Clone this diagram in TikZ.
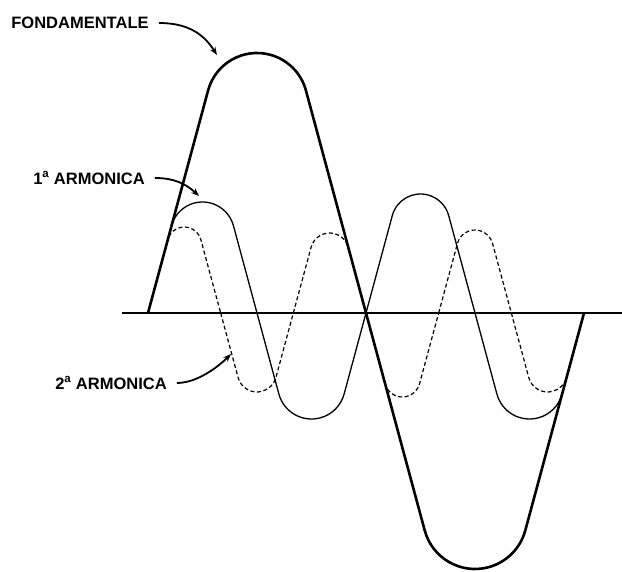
\documentclass[tikz,border=0pt]{standalone}
\usepackage{fontspec}
\setmainfont{Liberation Sans}
\usetikzlibrary{arrows.meta}
\newcommand{\hump}[4]{%
  \pgfmathsetmacro\hth{atan(0.27)}%
  \pgfmathsetmacro\hsg{sign(#4)}%
  \pgfmathsetmacro\hr{((#3)/2*cos(\hth)-abs(#4)*sin(\hth))/(1-sin(\hth))}%
  \pgfmathsetmacro\hcx{(#2)+(#3)/2}%
  \pgfmathsetmacro\hcy{(#4)-(\hsg)*(\hr)}%
  \pgfmathsetmacro\htx{(\hcx)-(\hr)*cos(\hth)}%
  \pgfmathsetmacro\hty{(\hcy)+(\hsg)*(\hr)*sin(\hth)}%
  \pgfmathsetmacro\hsa{180-(\hsg)*(\hth)}%
  \pgfmathsetmacro\hea{180-(\hsg)*(180-\hth)}%
  \pgfmathsetmacro\hxe{(#2)+(#3)}%
  \draw[#1] (#2,0) -- (\htx,\hty) arc[start angle=\hsa, end angle=\hea, radius=\hr pt] -- (\hxe,0);%
}
\begin{document}
\begin{tikzpicture}[x=1pt,y=1pt,
  fund/.style={line width=2.6pt, line join=round},
  harmA/.style={line width=1.3pt, line join=round},
  harmB/.style={line width=1.2pt, dash pattern=on 4pt off 2.6pt},
  axisline/.style={line width=2pt},
  lbl/.style={font=\fontsize{16.5}{18}\selectfont\bfseries, inner sep=0pt},
  pointer/.style={line width=1.8pt, -{Stealth[length=8pt,width=6pt]}}]
\fill[white] (0,-259) rectangle (622,313);
\useasboundingbox (0,-259) rectangle (622,313);
% axis
\coordinate (axL) at (122,0);
\coordinate (axR) at (622,0);
\draw[axisline] (axL) -- (axR);
% 2nd harmonic (dashed)
\hump{harmB}{148}{72.667}{86}
\hump{harmB}{220.667}{72.667}{-79}
\hump{harmB}{293.333}{72.667}{80}
\hump{harmB}{366}{72.667}{-84}
\hump{harmB}{438.667}{72.667}{83}
\hump{harmB}{511.333}{72.667}{-79}
% 1st harmonic
\hump{harmA}{148}{109}{111}
\hump{harmA}{257}{109}{-106}
\hump{harmA}{366}{109}{119}
\hump{harmA}{475}{109}{-106}
% fundamental
\hump{fund}{148}{218}{260}
\hump{fund}{366}{218}{-256}
% labels
\node[lbl] (fond) at (80,290) {FONDAMENTALE};
\node[lbl] (arm1) at (89,135) {1\textsuperscript{a} ARMONICA};
\node[lbl] (arm2) at (111,-70) {2\textsuperscript{a} ARMONICA};
\coordinate (fondtip) at (217,258);
\coordinate (arm1tip) at (199,117);
\coordinate (arm2tip) at (231,-41);
\draw[pointer] ([xshift=10pt]fond.east) .. controls +(28,0) and (203,280) .. (fondtip);
\draw[pointer] ([xshift=10pt]arm1.east) .. controls +(18,0) and (185,130) .. (arm1tip);
\draw[pointer] ([xshift=10pt]arm2.east) .. controls +(20,0) and (218,-54) .. (arm2tip);
\end{tikzpicture}
\end{document}
